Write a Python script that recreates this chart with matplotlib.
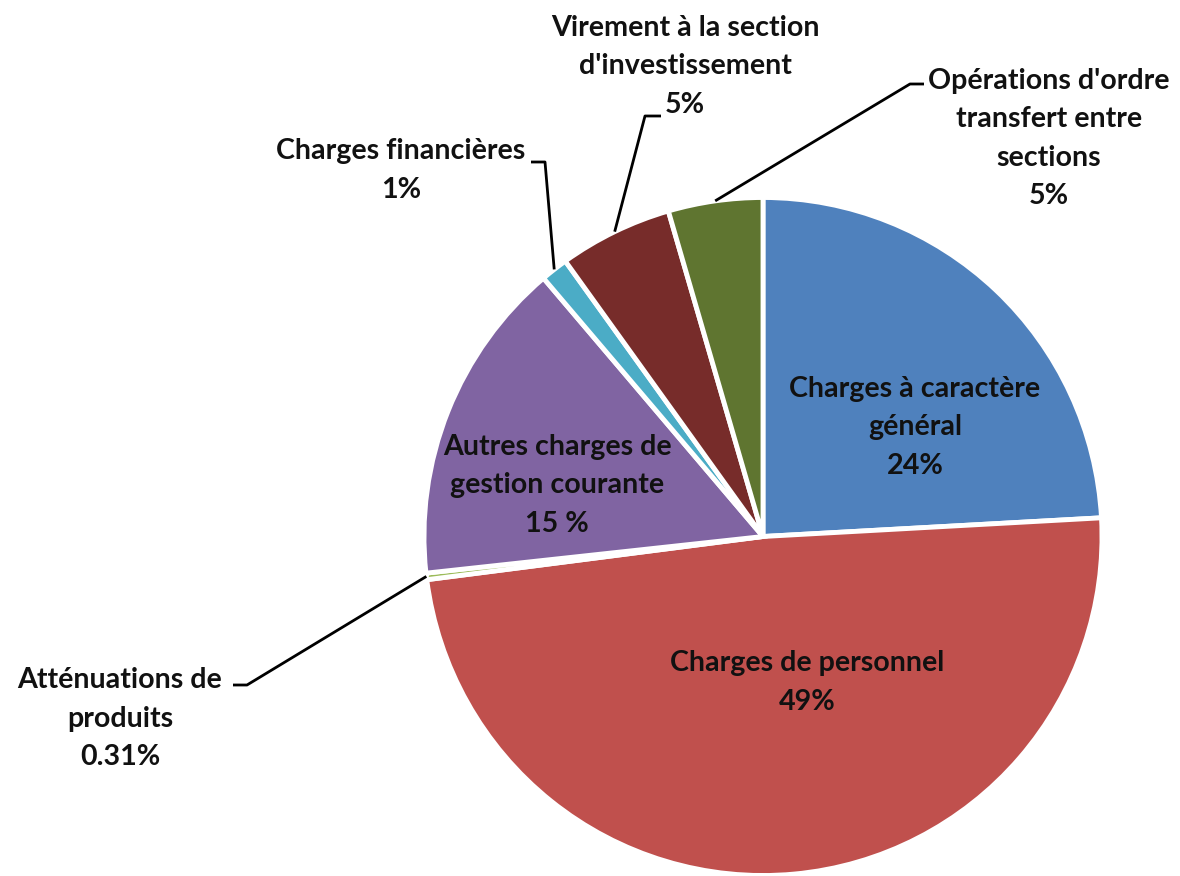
import numpy as np
import matplotlib
matplotlib.use("Agg")
import matplotlib.pyplot as plt

# ---- data ----
categories = [
    "Charges à caractère général",
    "Charges de personnel",
    "Atténuations de produits",
    "Autres charges de gestion courante",
    "Charges financières",
    "Virement à la section d'investissement",
    "Opérations d'ordre transfert entre sections",
]
values = [24.1, 48.8, 0.31, 15.5, 1.3, 5.4, 4.5]
pct_labels = ["24%", "49%", "0.31%", "15 %", "1%", "5%", "5%"]
label_lines = [
    ["Charges à caractère", "général"],
    ["Charges de personnel"],
    ["Atténuations de", "produits"],
    ["Autres charges de", "gestion courante"],
    ["Charges financières"],
    ["Virement à la section", "d'investissement"],
    ["Opérations d'ordre", "transfert entre", "sections"],
]
colors = ["#4F81BD", "#C0504D", "#9BBB59", "#8064A2", "#4BACC6", "#772C2A", "#5F7530"]

# ---- layout (pixel coordinates, y measured from top) ----
W, H = 1180, 876
CX, CY, R = 763, 536.5, 339
label_pos = [(915, 425), (807, 680), (120, 716), (557, 483), (401, 168), (685, 64), (1049, 136)]
# elbow points of leader lines (None = label inside the wedge)
elbows = [None, None,
          [(247, 685), (233, 685)],
          None,
          [(545, 162), (531, 162)],
          [(645, 116), (661, 116)],
          [(910, 84), (924, 84)]]
PITCH = 38.5
FONT = "Lato"

fig = plt.figure(figsize=(W / 100, H / 100), dpi=100)
ax = fig.add_axes([0, 0, 1, 1])

def Y(py):
    return H - py

wedges, _ = ax.pie(values, colors=colors, startangle=90, counterclock=False,
                   center=(CX, Y(CY)), radius=R,
                   wedgeprops=dict(edgecolor="white", linewidth=3.5))
ax.set_xlim(0, W)
ax.set_ylim(0, H)
ax.set_aspect("equal", adjustable="box")
ax.axis("off")

# fit font size so that "Charges de personnel" is about 275 px wide
fig.canvas.draw()
renderer = fig.canvas.get_renderer()
probe = ax.text(0, 0, "Charges de personnel", fontsize=20, fontweight="bold", family=FONT)
wpx = probe.get_window_extent(renderer).width
probe.remove()
FS = 20 * 275 / wpx

for i, w in enumerate(wedges):
    lines = label_lines[i] + [pct_labels[i]]
    lx, ly = label_pos[i]
    n = len(lines)
    for k, line in enumerate(lines):
        yy = ly + (k - (n - 1) / 2) * PITCH
        ax.text(lx, Y(yy), line, ha="center", va="center_baseline",
                fontsize=FS, fontweight="bold", family=FONT, color="#111111")
    if elbows[i] is not None:
        theta = np.deg2rad((w.theta1 + w.theta2) / 2)
        ax_x = CX + R * np.cos(theta)
        ax_y = Y(CY) + R * np.sin(theta)
        xs = [ax_x] + [p[0] for p in elbows[i]]
        ys = [ax_y] + [Y(p[1]) for p in elbows[i]]
        ax.plot(xs, ys, color="black", linewidth=2.0, solid_capstyle="butt")

fig.savefig("out.png", dpi=100)
